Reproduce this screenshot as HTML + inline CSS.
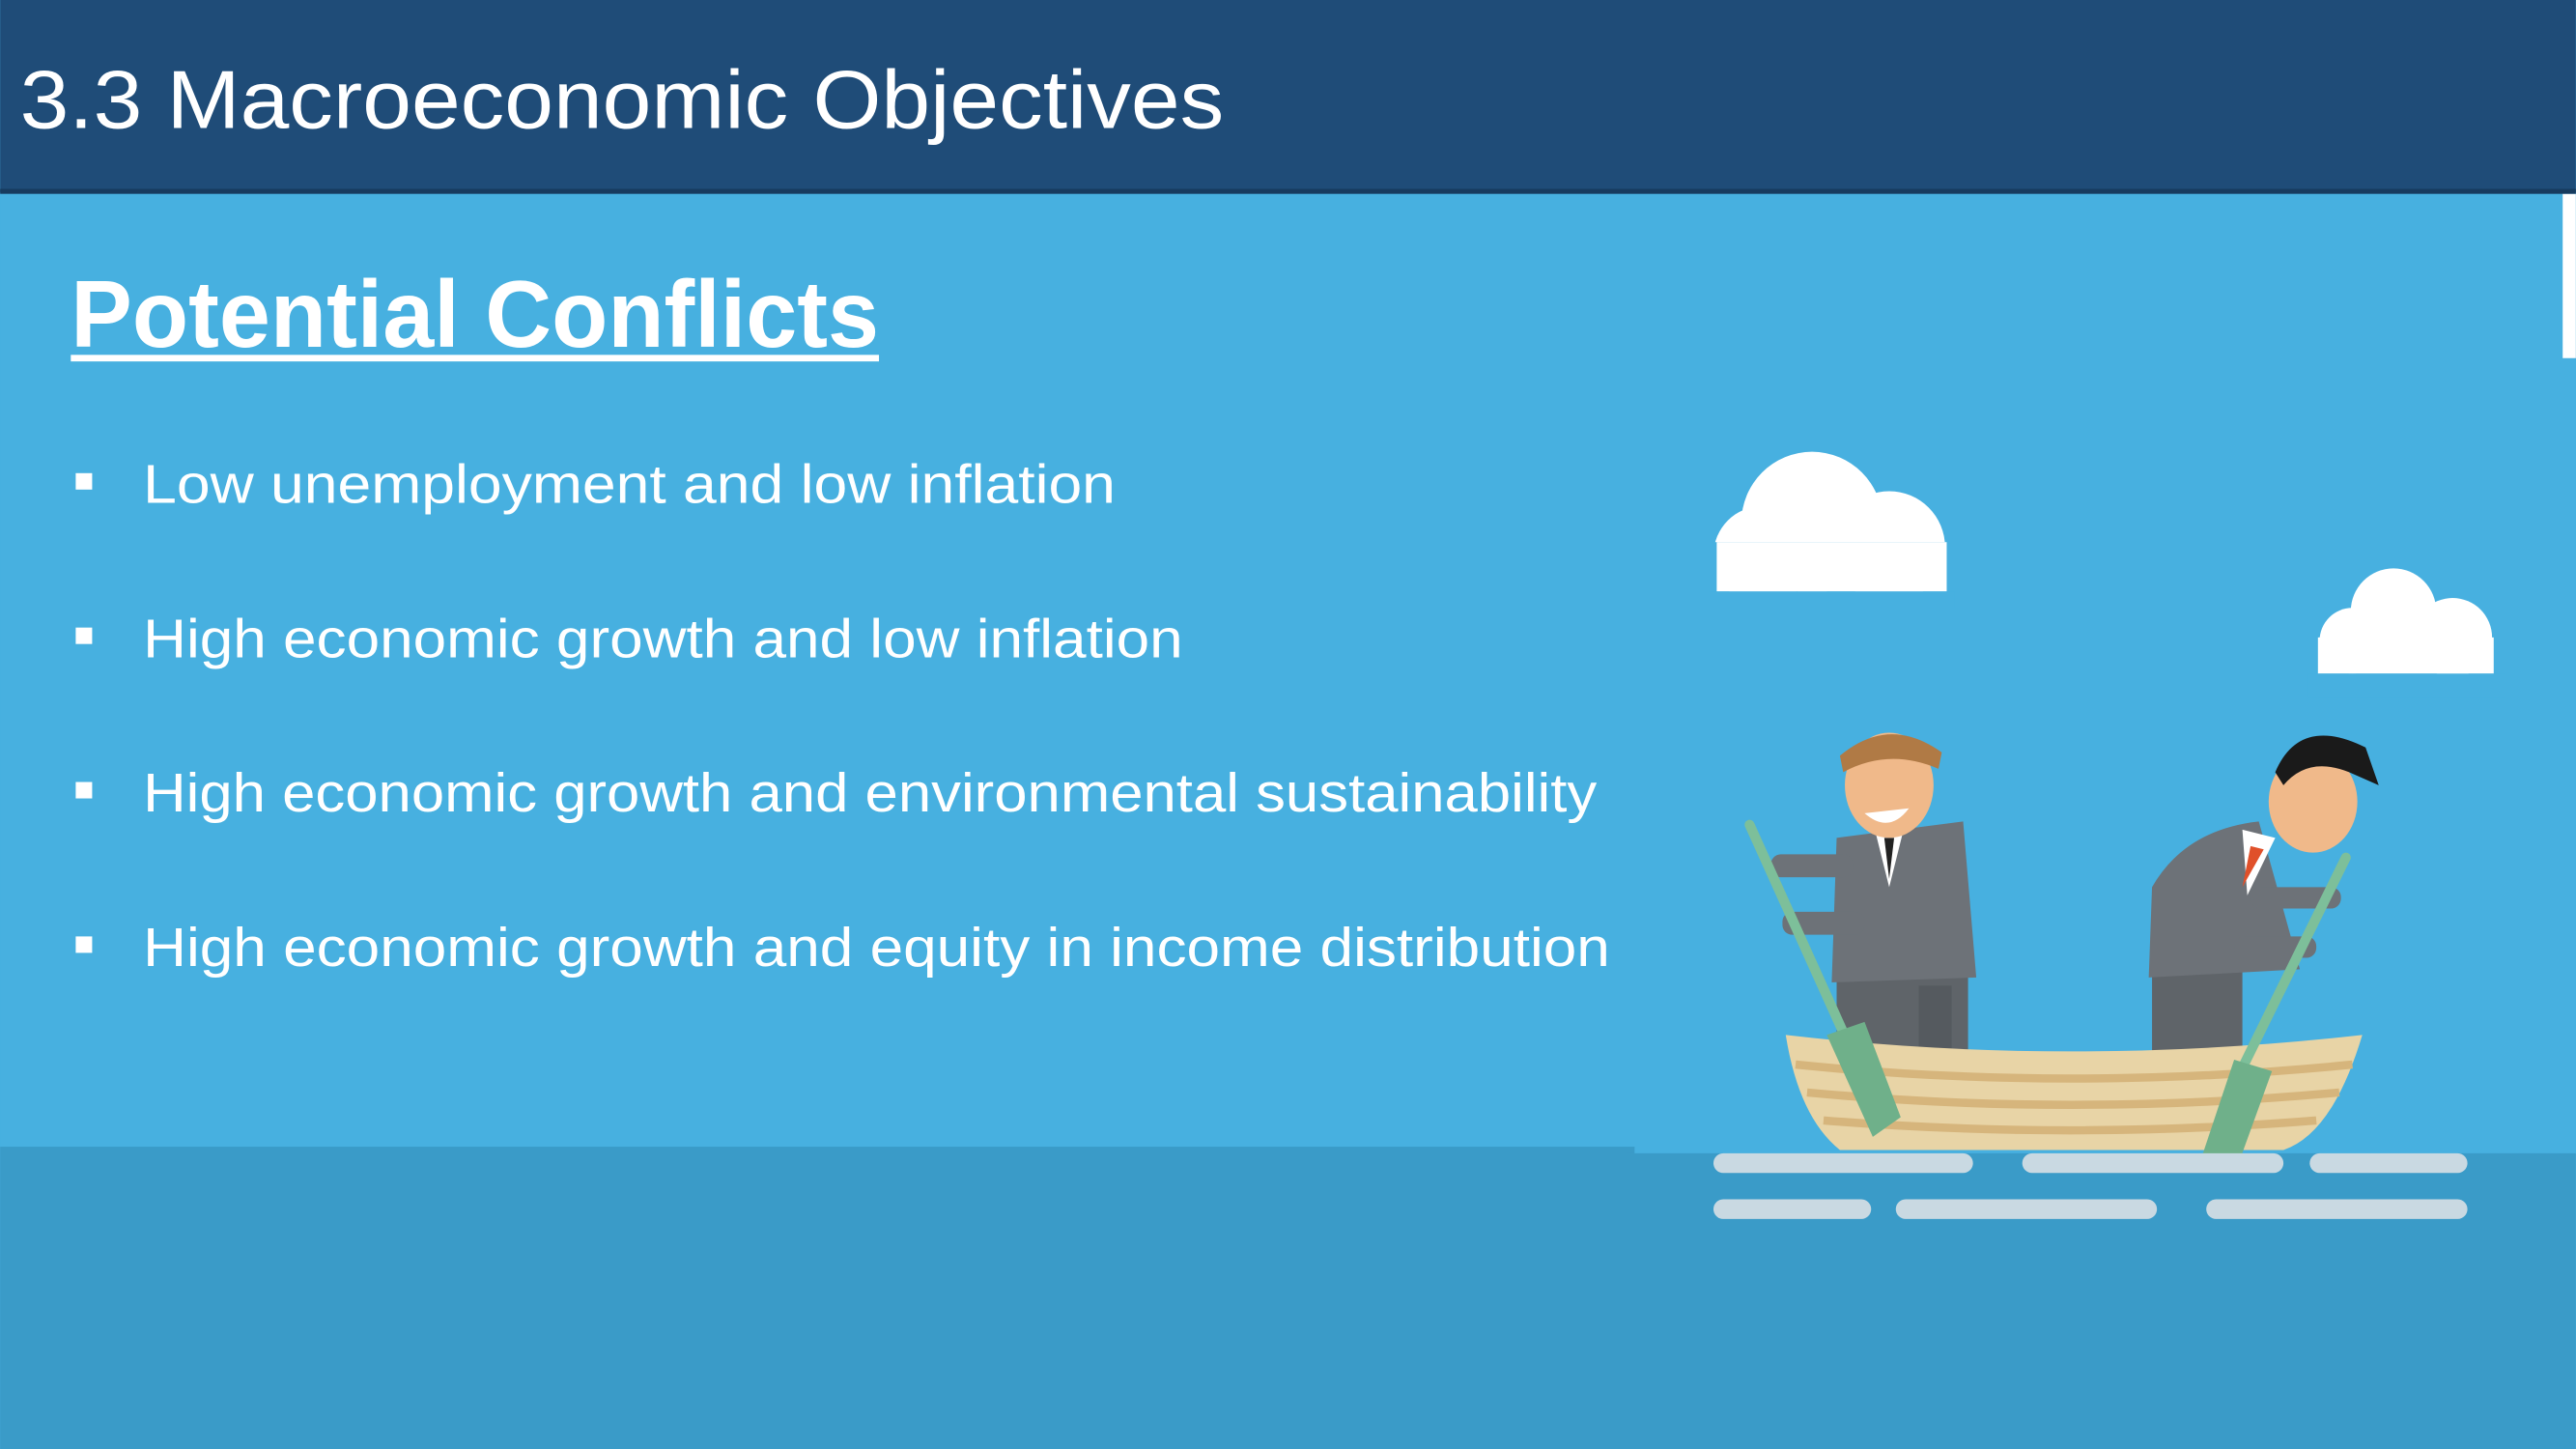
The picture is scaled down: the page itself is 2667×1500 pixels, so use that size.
<!DOCTYPE html>
<html>
<head>
<meta charset="utf-8">
<style>
html,body{margin:0;padding:0;width:2667px;height:1500px;overflow:hidden;background:#47b0e0;}
svg{display:block;}
text{font-family:"Liberation Sans",sans-serif;}
</style>
</head>
<body>
<svg width="2667" height="1500" viewBox="0 0 1568 882" xmlns="http://www.w3.org/2000/svg">
  <rect x="0" y="0" width="1568" height="882" fill="#47b0e0"/>
  <rect x="0" y="698" width="995" height="184" fill="#3a9bc8"/>
  <rect x="990" y="702" width="578" height="180" fill="#3a9bc8"/>
  <rect x="1560" y="118" width="8" height="100" fill="#ffffff"/>

  <g>
    <rect x="0" y="0" width="1568" height="117" fill="#1f4c78"/>
    <rect x="0" y="115" width="1568" height="3" fill="#173b5e"/>
    <text x="12" y="78" font-size="50" fill="#ffffff" textLength="733" lengthAdjust="spacingAndGlyphs">3.3 Macroeconomic Objectives</text>
  </g>

  <text x="43" y="211" font-size="58" font-weight="bold" fill="#ffffff" textLength="492" lengthAdjust="spacingAndGlyphs">Potential Conflicts</text>
  <rect x="43" y="216" width="492" height="4" fill="#ffffff"/>

  <g fill="#ffffff">
    <rect x="46" y="288" width="10" height="10"/>
    <text x="87" y="306" font-size="33" textLength="592" lengthAdjust="spacingAndGlyphs">Low unemployment and low inflation</text>
    <rect x="46" y="382" width="10" height="10"/>
    <text x="87" y="400" font-size="33" textLength="633" lengthAdjust="spacingAndGlyphs">High economic growth and low inflation</text>
    <rect x="46" y="476" width="10" height="10"/>
    <text x="87" y="494" font-size="33" textLength="885" lengthAdjust="spacingAndGlyphs">High economic growth and environmental sustainability</text>
    <rect x="46" y="570" width="10" height="10"/>
    <text x="87" y="588" font-size="33" textLength="893" lengthAdjust="spacingAndGlyphs">High economic growth and equity in income distribution</text>
  </g>

  <g>
    <circle cx="1103" cy="318" r="43" fill="#ffffff"/>
    <circle cx="1073" cy="338" r="30" fill="#ffffff"/>
    <circle cx="1150" cy="333" r="34" fill="#ffffff"/>
    <rect x="1042" y="330" width="143" height="30" fill="#47b0e0"/>
    <rect x="1045" y="330" width="140" height="30" fill="#ffffff"/>
    <rect x="1040" y="360" width="150" height="10" fill="#47b0e0"/>
  </g>
  <g>
    <circle cx="1457" cy="372" r="26" fill="#ffffff"/>
    <circle cx="1432" cy="390" r="20" fill="#ffffff"/>
    <circle cx="1493" cy="388" r="24" fill="#ffffff"/>
    <rect x="1411" y="388" width="107" height="22" fill="#ffffff"/>
    <rect x="1405" y="410" width="120" height="15" fill="#47b0e0"/>
  </g>

  <g>
    <rect x="1118" y="595" width="80" height="50" fill="#5f6469"/>
    <rect x="1168" y="600" width="20" height="45" fill="#555a5f"/>
    <path d="M1118 510 L1195 500 L1203 595 L1115 598 Z" fill="#6d7278"/>
    <path d="M1140 500 L1160 500 L1150 540 Z" fill="#ffffff"/>
    <path d="M1147 510 L1153 510 L1150 535 Z" fill="#222"/>
    <ellipse cx="1150" cy="478" rx="27" ry="32" fill="#f0b98a"/>
    <path d="M1120 460 Q1150 435 1182 458 L1180 468 Q1150 455 1122 470 Z" fill="#b07a45"/>
    <path d="M1135 495 Q1150 508 1162 492 Z" fill="#ffffff"/>
    <rect x="1078" y="520" width="50" height="14" rx="6" fill="#6d7278"/>
    <rect x="1085" y="555" width="50" height="14" rx="6" fill="#6d7278"/>
  </g>
  <g>
    <rect x="1310" y="590" width="55" height="55" fill="#5f6469"/>
    <path d="M1310 540 Q1330 505 1375 500 L1400 590 L1308 595 Z" fill="#6d7278"/>
    <path d="M1365 505 L1385 510 L1368 545 Z" fill="#ffffff"/>
    <path d="M1370 515 L1378 517 L1365 540 Z" fill="#e0502a"/>
    <ellipse cx="1408" cy="488" rx="27" ry="31" fill="#f0b98a"/>
    <path d="M1385 470 Q1400 435 1440 455 L1448 478 L1430 470 Q1405 460 1390 478 Z" fill="#1a1a1a"/>
    <rect x="1370" y="540" width="55" height="13" rx="6" fill="#6d7278"/>
    <rect x="1360" y="570" width="50" height="13" rx="6" fill="#6d7278"/>
  </g>
  <line x1="1065" y1="502" x2="1125" y2="635" stroke="#7dbf9a" stroke-width="6" stroke-linecap="round"/>

  <g>
    <path d="M1087 630 Q1260 650 1438 630 Q1420 690 1390 700 L1120 700 Q1095 680 1087 630 Z" fill="#e8d4a6"/>
    <path d="M1093 648 Q1260 665 1432 648" stroke="#d6b57c" stroke-width="5" fill="none"/>
    <path d="M1100 665 Q1260 680 1424 665" stroke="#d6b57c" stroke-width="5" fill="none"/>
    <path d="M1110 682 Q1260 694 1410 682" stroke="#d6b57c" stroke-width="5" fill="none"/>
  </g>
  <g>
    <path d="M1112 630 L1135 622 L1157 680 L1140 692 Z" fill="#6fb08a"/>
    <line x1="1428" y1="522" x2="1365" y2="650" stroke="#7dbf9a" stroke-width="6" stroke-linecap="round"/>
    <path d="M1360 645 L1383 652 L1362 710 L1340 705 Z" fill="#6fb08a"/>
  </g>

  <g fill="#c9d9e2">
    <rect x="1043" y="702" width="158" height="12" rx="6"/>
    <rect x="1231" y="702" width="159" height="12" rx="6"/>
    <rect x="1406" y="702" width="96" height="12" rx="6"/>
    <rect x="1043" y="730" width="96" height="12" rx="6"/>
    <rect x="1154" y="730" width="159" height="12" rx="6"/>
    <rect x="1343" y="730" width="159" height="12" rx="6"/>
  </g>
</svg>
</body>
</html>
